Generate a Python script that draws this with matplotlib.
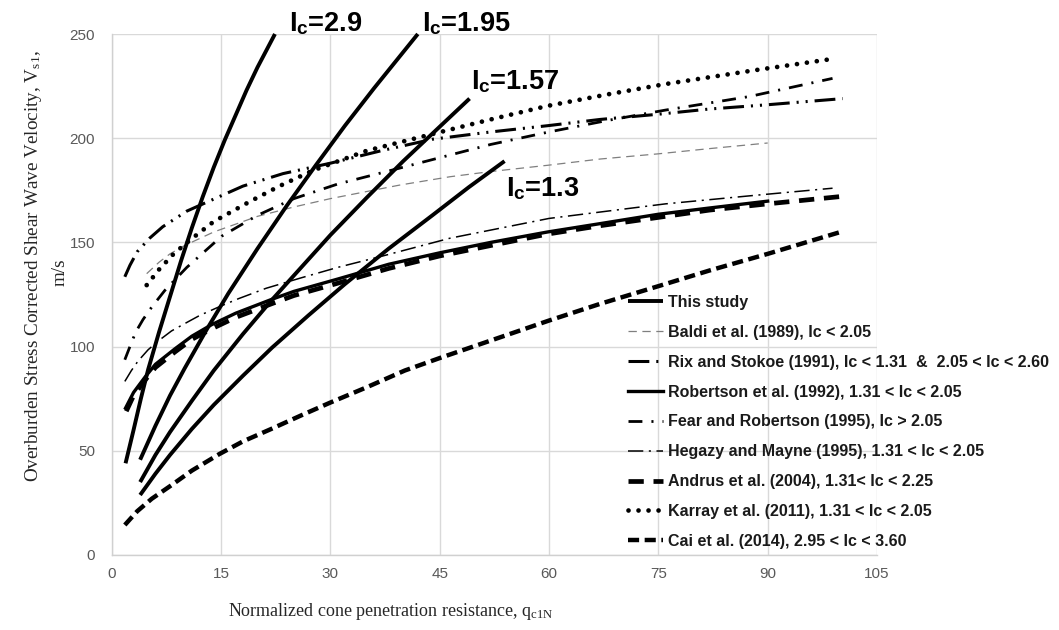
import matplotlib
matplotlib.use("Agg")
import matplotlib.pyplot as plt
from matplotlib import font_manager
from matplotlib.lines import Line2D

# ---------------- data ----------------
xticks = [0, 15, 30, 45, 60, 75, 90, 105]
yticks = [0, 50, 100, 150, 200, 250]

# "This study" lines for several Ic values
ic29_q = [1.9, 3, 4, 5, 6.5, 8, 9.5, 11, 12.5, 14, 15.5, 17, 18.5, 20, 22.4]
ic29_v = [44, 60, 75, 89, 107, 124, 141, 157, 172, 186, 199, 211, 223, 234, 250]
ic195_q = [3.9, 6, 8, 10, 13, 16, 20, 24, 28, 32, 36, 42]
ic195_v = [45.7, 62, 76.5, 89.5, 108, 125.5, 147, 167.5, 187, 206, 224, 250]
ic157_q = [3.9, 6, 8, 11, 14, 18, 22, 26, 30, 35, 40, 45, 49.1]
ic157_v = [35, 48, 59, 74, 88.5, 106, 122.5, 138, 153.5, 171.5, 189, 205.5, 219]
ic13_q = [3.9, 6, 8, 11, 14, 18, 22, 27, 32, 38, 44, 49, 53.9]
ic13_v = [28.8, 39, 48, 60.5, 72, 86, 99.5, 115, 130, 147, 163, 176.5, 189]

baldi_q = [4.8, 6.5, 8, 10, 14, 20, 25, 30, 39.5, 46.4, 52, 59.8, 67, 75, 82, 90]
baldi_v = [135, 140.5, 144.5, 148.5, 155, 162.5, 167, 171, 177.5, 181.5, 184, 187, 190, 192.5, 195, 197.7]

rix_q = [1.8, 2.5, 3.5, 5.2, 7, 10.3, 13.5, 18, 23.5, 30, 37, 44, 52, 59.8, 67, 75, 82, 89.8, 100.3]
rix_v = [133.5, 139, 145.5, 152, 157.5, 165, 170, 177, 183, 188, 194, 199.5, 203, 206, 209, 211.5, 214, 216, 219]

rob_q = [1.9, 3, 4.6, 6, 8.7, 11, 13.7, 17, 21.9, 25, 31.1, 38, 45, 52, 59.8, 67, 75, 82, 90]
rob_v = [70.5, 78, 85.5, 91.5, 99, 105, 110.5, 116, 122.6, 126.5, 132.5, 139.5, 145, 150, 155, 159, 163.5, 166.5, 169.8]

fear_q = [1.8, 2.5, 3.3, 4.3, 5.5, 7.3, 10.3, 15.1, 20, 25, 31, 37.7, 45.4, 52, 60, 68, 76, 87.5, 98.9]
fear_v = [93.7, 100, 107, 113, 119, 127, 138, 153, 163, 171, 178, 184, 191, 197, 203, 208.5, 213.5, 220, 228.7]

heg_q = [1.8, 2.7, 3.6, 5, 6.5, 8.2, 10, 12.1, 15, 17.4, 21.2, 26, 31, 37.2, 46.4, 60, 76, 88, 98.9]
heg_v = [83.3, 88.5, 93, 98.5, 103, 107.5, 111, 115, 119.5, 123, 128, 133, 138, 143.5, 152, 161.5, 168.5, 172.5, 176]

andrus_q = [2.0, 3, 4.6, 6, 8.7, 11, 13.7, 17, 21.9, 25, 31.1, 38, 45, 52, 59.8, 67, 75, 82, 90, 100]
andrus_v = [69, 76.5, 84, 90, 97.5, 103.5, 108.5, 114, 120.5, 124.5, 130.5, 137.5, 143.5, 148.5, 154, 158, 162, 165.5, 168.5, 172]

karray_q = [4.8, 6.5, 8.5, 10.7, 14, 18.9, 23, 27.6, 35, 44, 52, 59.8, 68, 76, 88, 99.4]
karray_v = [129.5, 137, 144.5, 151, 160, 169.5, 177, 184.5, 194, 202, 209, 215.5, 221, 226, 232.5, 238.3]

cai_q = [1.8, 3.5, 5.5, 8.2, 11, 14.8, 18, 21.9, 26, 29.9, 35, 40.2, 45, 50, 55, 60, 67, 75, 82, 90, 100]
cai_v = [14.4, 21, 27, 33.5, 40.5, 48.5, 54.5, 60.5, 67, 73, 80.5, 88.5, 94.5, 100.5, 106.5, 112.5, 120.5, 129, 136.5, 144.5, 155]

legend_labels = [
    "This study",
    "Baldi et al. (1989), Ic < 2.05",
    "Rix and Stokoe (1991), Ic < 1.31  &  2.05 < Ic < 2.60",
    "Robertson et al. (1992), 1.31 < Ic < 2.05",
    "Fear and Robertson (1995), Ic > 2.05",
    "Hegazy and Mayne (1995), 1.31 < Ic < 2.05",
    "Andrus et al. (2004), 1.31< Ic < 2.25",
    "Karray et al. (2011), 1.31 < Ic < 2.05",
    "Cai et al. (2014), 2.95 < Ic < 3.60",
]

ic_labels = ["2.9", "1.95", "1.57", "1.3"]
ic_label_pos = [(24.3, 255), (42.6, 255), (49.3, 227), (54.1, 176)]

# ---------------- style ----------------
names = {f.name for f in font_manager.fontManager.ttflist}
narrow = "Liberation Sans Narrow" if "Liberation Sans Narrow" in names else "Liberation Sans"

plt.rcParams["font.family"] = ["Liberation Sans", "DejaVu Sans"]
plt.rcParams["lines.scale_dashes"] = False
plt.rcParams["mathtext.fontset"] = "custom"
plt.rcParams["mathtext.rm"] = "Liberation Serif"
plt.rcParams["mathtext.it"] = "Liberation Serif:italic"
plt.rcParams["mathtext.bf"] = narrow + ":bold"

W, H = 1059, 630
fig = plt.figure(figsize=(W / 100, H / 100), dpi=100)
ax = fig.add_axes([111.7 / W, 1 - 555 / H, (877 - 111.7) / W, (555 - 34) / H])

ax.set_xlim(0, 105)
ax.set_ylim(0, 250)
ax.set_xticks(xticks)
ax.set_yticks(yticks)
ax.grid(True, color="#d9d9d9", lw=1)
ax.set_axisbelow(True)
for s in ["top", "right"]:
    ax.spines[s].set_visible(False)
for s in ["left", "bottom"]:
    ax.spines[s].set_color("#d0d0d0")
    ax.spines[s].set_linewidth(1)
ax.tick_params(length=0, labelsize=11, labelcolor="#595959")
ax.tick_params(axis="x", pad=9)
ax.tick_params(axis="y", pad=12)

k = "black"
styles = {
    "this": dict(color=k, lw=2.8, ls="-", solid_capstyle="butt"),
    "baldi": dict(color="#7f7f7f", lw=0.9, dashes=(6, 4)),
    "rix": dict(color=k, lw=2.2, dashes=(15, 5, 1.5, 5, 1.5, 5)),
    "rob": dict(color=k, lw=2.4, ls="-"),
    "fear": dict(color=k, lw=2.0, dashes=(10, 6.5, 1.5, 6.5)),
    "heg": dict(color=k, lw=1.1, dashes=(11, 4, 1.5, 4)),
    "andrus": dict(color=k, lw=3.4, dashes=(11, 7)),
    "karray": dict(color=k, lw=3.4, dashes=(0.01, 7.2), dash_capstyle="round"),
    "cai": dict(color=k, lw=3.2, dashes=(8, 4)),
}

ax.plot(baldi_q, baldi_v, **styles["baldi"])
ax.plot(heg_q, heg_v, **styles["heg"])
ax.plot(fear_q, fear_v, **styles["fear"])
ax.plot(rix_q, rix_v, **styles["rix"])
ax.plot(karray_q, karray_v, **styles["karray"])
ax.plot(rob_q, rob_v, **styles["rob"])
ax.plot(andrus_q, andrus_v, **styles["andrus"])
ax.plot(cai_q, cai_v, **styles["cai"])
for qq, vv in [(ic29_q, ic29_v), (ic195_q, ic195_v), (ic157_q, ic157_v), (ic13_q, ic13_v)]:
    ax.plot(qq, vv, clip_on=False, **styles["this"])

for lab, (xq, yv) in zip(ic_labels, ic_label_pos):
    ax.text(xq, yv, r"$\mathbf{I}_{\mathbf{c}}$" + "=" + lab, fontfamily=narrow,
            fontweight="bold", fontsize=19.5, ha="left", va="center", clip_on=False)

handles = [Line2D([], [], **styles[key]) for key in
           ["this", "baldi", "rix", "rob", "fear", "heg", "andrus", "karray", "cai"]]
leg = ax.legend(handles, legend_labels, loc="upper left",
                bbox_to_anchor=(628 / W, 1 - 295 / H), bbox_transform=fig.transFigure,
                frameon=False, borderpad=0, borderaxespad=0, handlelength=2.2,
                handletextpad=0.31, labelspacing=0.93,
                prop=dict(family="Liberation Sans", weight="bold", size=11.5))
for t in leg.get_texts():
    t.set_color("#1a1a1a")

fig.text(34 / W, 1 - 266 / H,
         r"Overburden Stress Corrected Shear Wave Velocity, V$_{\mathrm{s1}}$,",
         rotation=90, ha="center", va="center", fontfamily="Liberation Serif",
         fontsize=13.8, color="#262626")
fig.text(60 / W, 1 - 272 / H, "m/s", rotation=90, ha="center", va="center",
         fontfamily="Liberation Serif", fontsize=13.8, color="#262626")
fig.text(391 / W, 1 - 612 / H,
         r"Normalized cone penetration resistance, q$_{\mathrm{c1N}}$",
         ha="center", va="center", fontfamily="Liberation Serif", fontsize=13,
         color="#262626")

fig.savefig("out.png", dpi=100)
